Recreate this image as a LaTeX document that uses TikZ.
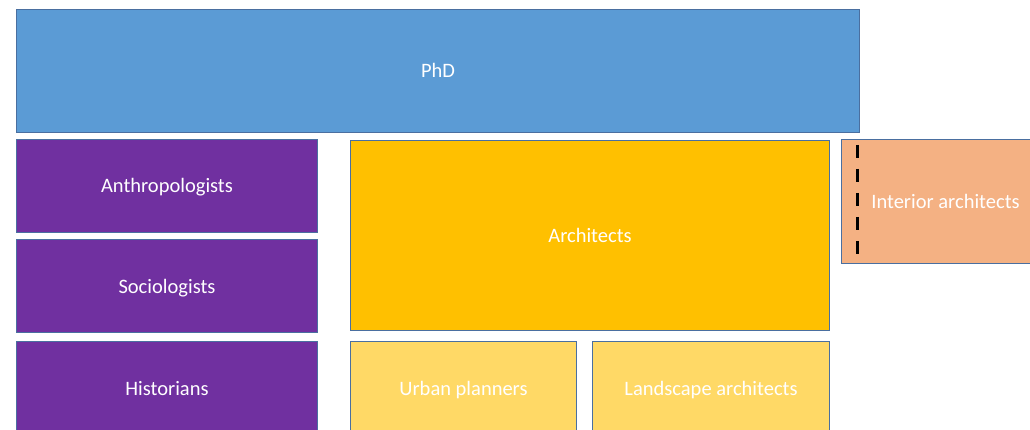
\documentclass[tikz,border=0pt]{standalone}
\usepackage{fontspec}
\setmainfont{Carlito}
\definecolor{phdblue}{HTML}{5B9BD5}
\definecolor{edgeblue}{HTML}{4A6FA0}
\definecolor{socpurple}{HTML}{7030A0}
\definecolor{archgold}{HTML}{FFC000}
\definecolor{planyellow}{HTML}{FFD966}
\definecolor{intorange}{HTML}{F4B183}
\tikzset{
 box/.style={draw=edgeblue,line width=1pt,text=white,anchor=north west,
  inner sep=0pt,text height=1.4em,text depth=0pt,
  font=\fontsize{20.5}{24}\selectfont},
 social/.style={box,fill=socpurple,minimum width=301pt,minimum height=93pt}
}
\begin{document}
\begin{tikzpicture}[x=1pt,y=-1pt]
 \useasboundingbox (0,0) rectangle (1030,430);
 \clip (0,0) rectangle (1030,430);
 \node[box,fill=phdblue,minimum width=843pt,minimum height=123pt] (phd) at (16,9) {PhD};
 \node[social] (anthro) at (16,139) {Anthropologists};
 \node[social] (socio) at (16,239) {Sociologists};
 \node[social,minimum height=94pt] (hist) at (16,341) {Historians};
 \node[box,fill=archgold,minimum width=479pt,minimum height=190pt] (arch) at (350,140) {Architects};
 \node[box,fill=planyellow,minimum width=226pt,minimum height=94pt] (urban) at (350,341) {Urban planners};
 \node[box,fill=planyellow,minimum width=237pt,minimum height=94pt] (land) at (592,341) {Landscape architects};
 \node[box,fill=intorange,minimum width=208pt,minimum height=124pt] (interior) at (841,139) {Interior architects};
 \coordinate (dtop) at (857,145);
 \coordinate (dbot) at (857,258);
 \draw[line width=3pt,dash pattern=on 13pt off 11pt] (dtop) -- (dbot);
\end{tikzpicture}
\end{document}
